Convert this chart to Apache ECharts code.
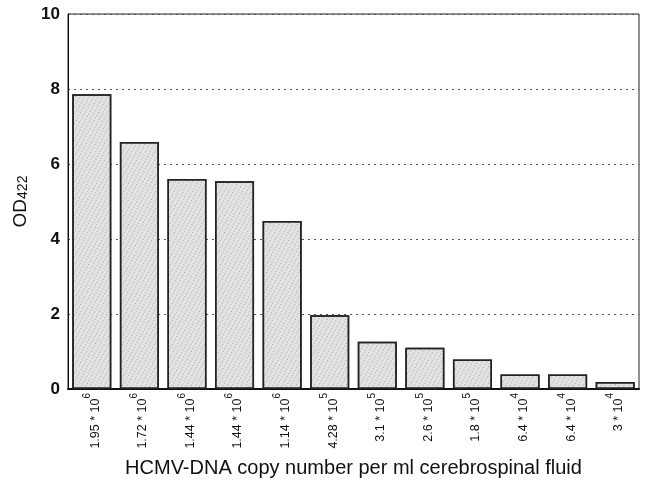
<!DOCTYPE html>
<html>
<head>
<meta charset="utf-8">
<script src="https://cdn.jsdelivr.net/npm/echarts@6/dist/echarts.min.js"></script>
<style>html,body{margin:0;padding:0;background:#fff}#c{width:648px;height:481px}</style>
</head>
<body>
<div id="c"></div>
<script>
var mantissas = ['1.95', '1.72', '1.44', '1.44', '1.14', '4.28', '3.1', '2.6', '1.8', '6.4', '6.4', '3'];
var exponents = ['6', '6', '6', '6', '6', '5', '5', '5', '5', '4', '4', '4'];
var odValues = [7.86, 6.59, 5.6, 5.54, 4.48, 1.97, 1.26, 1.1, 0.79, 0.39, 0.39, 0.19];
var yTicks = [0, 2, 4, 6, 8, 10];

var categories = mantissas.map(function (m, i) { return m + '|' + exponents[i]; });

var chart = echarts.init(document.getElementById('c'));
chart.setOption({
  animation: false,
  backgroundColor: '#fff',
  grid: { left: 68, right: 9, top: 14, bottom: 92, outerBoundsMode: 'none', containLabel: false, show: true, borderColor: '#222', borderWidth: 1, backgroundColor: 'transparent' },
  xAxis: {
    type: 'category',
    data: categories,
    name: 'HCMV-DNA copy number per ml cerebrospinal fluid',
    nameLocation: 'middle',
    nameGap: 69,
    nameTextStyle: { fontFamily: 'Liberation Sans', fontSize: 20, color: '#111' },
    axisLine: { lineStyle: { color: '#111', width: 2 } },
    axisTick: { show: false },
    axisLabel: {
      interval: 0,
      rotate: 90,
      margin: 4,
      fontFamily: 'Liberation Sans',
      formatter: function (v) {
        var p = v.split('|');
        return '{a|' + p[0] + ' * 10}{s|' + p[1] + '}';
      },
      rich: {
        a: { fontSize: 12.5, color: '#111', fontFamily: 'Liberation Sans', lineHeight: 20, verticalAlign: 'bottom' },
        s: { fontSize: 10, color: '#111', fontFamily: 'Liberation Sans', lineHeight: 20, verticalAlign: 'top', padding: [0, 0, 7, 0] }
      }
    }
  },
  yAxis: {
    type: 'value',
    min: 0,
    max: 10,
    interval: 2,
    name: '{a|OD}{b|422}',
    nameLocation: 'middle',
    nameRotate: 90,
    nameGap: 35,
    nameTextStyle: {
      rich: {
        a: { fontFamily: 'Liberation Sans', fontSize: 19, color: '#111', lineHeight: 22, verticalAlign: 'bottom' },
        b: { fontFamily: 'Liberation Sans', fontSize: 14, color: '#111', lineHeight: 22, verticalAlign: 'bottom' }
      }
    },
    axisLine: { show: true, lineStyle: { color: '#111', width: 1 } },
    axisTick: { show: false },
    axisLabel: {
      fontFamily: 'Liberation Sans', fontSize: 17, fontWeight: 'bold', color: '#111', margin: 8,
      formatter: function (v) { return yTicks.indexOf(v) >= 0 ? String(v) : ''; }
    },
    splitLine: { lineStyle: { type: [2, 4], color: '#555', width: 1 } }
  },
  series: [{
    type: 'bar',
    data: odValues,
    barCategoryGap: '18%',
    itemStyle: {
      color: '#e2e2e2',
      borderColor: '#222',
      borderWidth: 1.5,
      decal: {
        symbol: 'rect',
        symbolSize: 1,
        dashArrayX: [1, 3],
        dashArrayY: [1, 2],
        rotation: 0.5,
        color: 'rgba(90,90,90,0.45)'
      }
    }
  }]
});
</script>
</body>
</html>
